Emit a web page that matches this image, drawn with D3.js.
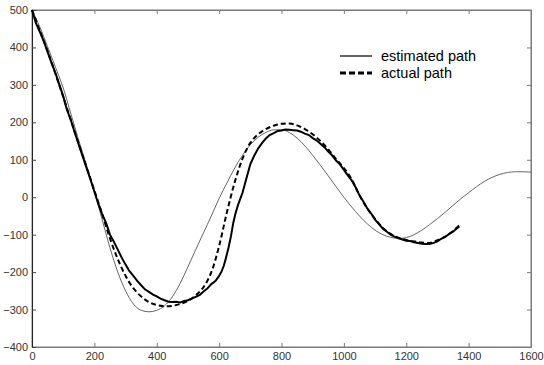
<!DOCTYPE html>
<html><head><meta charset="utf-8">
<script src="https://cdn.jsdelivr.net/npm/d3@7"></script>
<style>body{margin:0;background:#fff}svg{display:block}</style>
</head><body><svg id="c" width="544" height="365"></svg>
<script>
const xTicks = [0,200,400,600,800,1000,1200,1400,1600];
const yTicks = [-400,-300,-200,-100,0,100,200,300,400,500];
const legendLabels = ["estimated path","actual path"];

const estX = [0,25,50,75,100,125,150,175,200,225,250,275,300,325,350,375,400,425,450,475,500,525,550,575,600,625,650,675,700,725,750,775,800,825,850,875,900,925,950,975,1000,1025,1050,1075,1100,1125,1150,1175,1200,1225,1250,1275,1300,1325,1350,1375,1400,1425,1450,1475,1500,1525,1550,1575,1600];
const estY = [500,455,402,348,292,222,152,85,15,-60,-135,-200,-250,-285,-302,-306,-302,-290,-266,-230,-186,-140,-95,-50,-3,38,78,112,140,160,173,180,180,173,158,137,112,85,57,28,0,-26,-50,-71,-88,-100,-107,-110,-108,-100,-88,-73,-57,-40,-22,-4,12,28,42,53,61,66,68,68,67];

const actX = [0,25,50,75,100,125,150,175,200,225,250,275,300,325,350,375,400,425,450,475,500,525,550,575,600,625,650,675,700,725,750,775,800,825,850,875,900,925,950,975,1000,1025,1050,1075,1100,1125,1150,1175,1200,1225,1250,1275,1300,1325,1350,1370];
const actY = [500,445,390,330,268,205,142,80,18,-45,-110,-165,-210,-243,-265,-280,-288,-291,-290,-285,-277,-262,-240,-200,-130,-40,40,103,145,168,182,191,196,197,192,182,168,150,128,102,78,48,5,-30,-58,-82,-98,-108,-114,-118,-121,-122,-115,-105,-90,-75];

const measX = [0,12,25,38,50,62,75,88,100,112,125,138,150,162,175,188,200,212,225,238,250,262,275,288,300,312,325,338,350,362,375,388,400,412,425,438,450,462,475,488,500,512,525,538,550,562,575,588,600,608,615,622,630,638,645,652,660,668,675,688,700,712,725,738,750,762,775,788,800,812,825,838,850,862,875,888,900,912,925,938,950,962,975,988,1000,1012,1025,1038,1050,1062,1075,1088,1100,1112,1125,1138,1150,1162,1175,1188,1200,1212,1225,1238,1250,1262,1275,1288,1300,1312,1325,1338,1350,1360,1370];
const measY = [500,466,442,416,388,360,332,300,270,234,205,170,140,110,78,46,15,-16,-45,-70,-100,-118,-140,-162,-180,-197,-210,-224,-235,-246,-253,-260,-265,-271,-275,-279,-280,-279,-281,-277,-275,-271,-266,-261,-252,-244,-232,-224,-210,-198,-183,-162,-135,-104,-70,-45,-22,-4,12,52,88,110,130,145,157,166,171,177,178,181,180,179,178,175,170,166,158,152,143,133,122,112,98,87,73,59,45,26,5,-11,-30,-44,-60,-71,-84,-92,-100,-105,-110,-113,-116,-117,-120,-122,-124,-125,-125,-122,-118,-111,-106,-98,-92,-85,-78];

const W=544,H=365, L=32, R=531, T=10, B=347;
const svg = d3.select("#c");
const x = d3.scaleLinear().domain([0,1600]).range([L,R]);
const y = d3.scaleLinear().domain([-400,500]).range([B,T]);

const axisColor="#7a7a7a";
const fontFam="'Liberation Sans', Arial, sans-serif";

svg.append("rect").attr("x",L).attr("y",T).attr("width",R-L).attr("height",B-T)
  .attr("fill","none").attr("stroke",axisColor).attr("stroke-width",1);

const gB = svg.append("g").attr("transform",`translate(0,${B})`)
  .call(d3.axisBottom(x).tickValues(xTicks).tickSize(-4).tickPadding(5).tickFormat(d3.format("d")));
const gTop = svg.append("g").attr("transform",`translate(0,${T})`)
  .call(d3.axisTop(x).tickValues(xTicks).tickSize(-4).tickFormat(""));
const gL = svg.append("g").attr("transform",`translate(${L},0)`)
  .call(d3.axisLeft(y).tickValues(yTicks).tickSize(-4).tickPadding(4).tickFormat(d3.format("d")));
const gR = svg.append("g").attr("transform",`translate(${R},0)`)
  .call(d3.axisRight(y).tickValues(yTicks).tickSize(-4).tickFormat(""));
[gB,gTop,gR].forEach(g=>{g.select(".domain").attr("stroke",axisColor);g.selectAll(".tick line").attr("stroke",axisColor);});
gL.select(".domain").attr("stroke","#222");
gL.selectAll(".tick line").attr("stroke","#444");
[gB,gL].forEach(g=>g.selectAll(".tick text").attr("font-family",fontFam).attr("font-size",11).attr("fill","#333"));

const line = d3.line().x(d=>x(d[0])).y(d=>y(d[1]));
const est = d3.zip(estX,estY), act = d3.zip(actX,actY), meas = d3.zip(measX,measY);

svg.append("path").attr("d",d3.line().x(d=>x(d[0])).y(d=>y(d[1])).curve(d3.curveMonotoneX)(est))
  .attr("fill","none").attr("stroke","#555").attr("stroke-width",0.9);
svg.append("path").attr("d",line(meas))
  .attr("fill","none").attr("stroke","#000").attr("stroke-width",2);
svg.append("path").attr("d",d3.line().x(d=>x(d[0])).y(d=>y(d[1])).curve(d3.curveCatmullRom)(act))
  .attr("fill","none").attr("stroke","#000").attr("stroke-width",2).attr("stroke-dasharray","5,3");

const lg = svg.append("g");
const styles=[{w:1.2,dash:null},{w:3,dash:"6,3"}];
legendLabels.forEach((t,i)=>{
  const yy = 56 + i*17;
  lg.append("line").attr("x1",340).attr("x2",372).attr("y1",yy).attr("y2",yy)
    .attr("stroke","#000").attr("stroke-width",styles[i].w).attr("stroke-dasharray",styles[i].dash);
  lg.append("text").attr("x",381).attr("y",yy+5).text(t)
    .attr("font-family",fontFam).attr("font-size",14.5).attr("fill","#000");
});
</script></body></html>
